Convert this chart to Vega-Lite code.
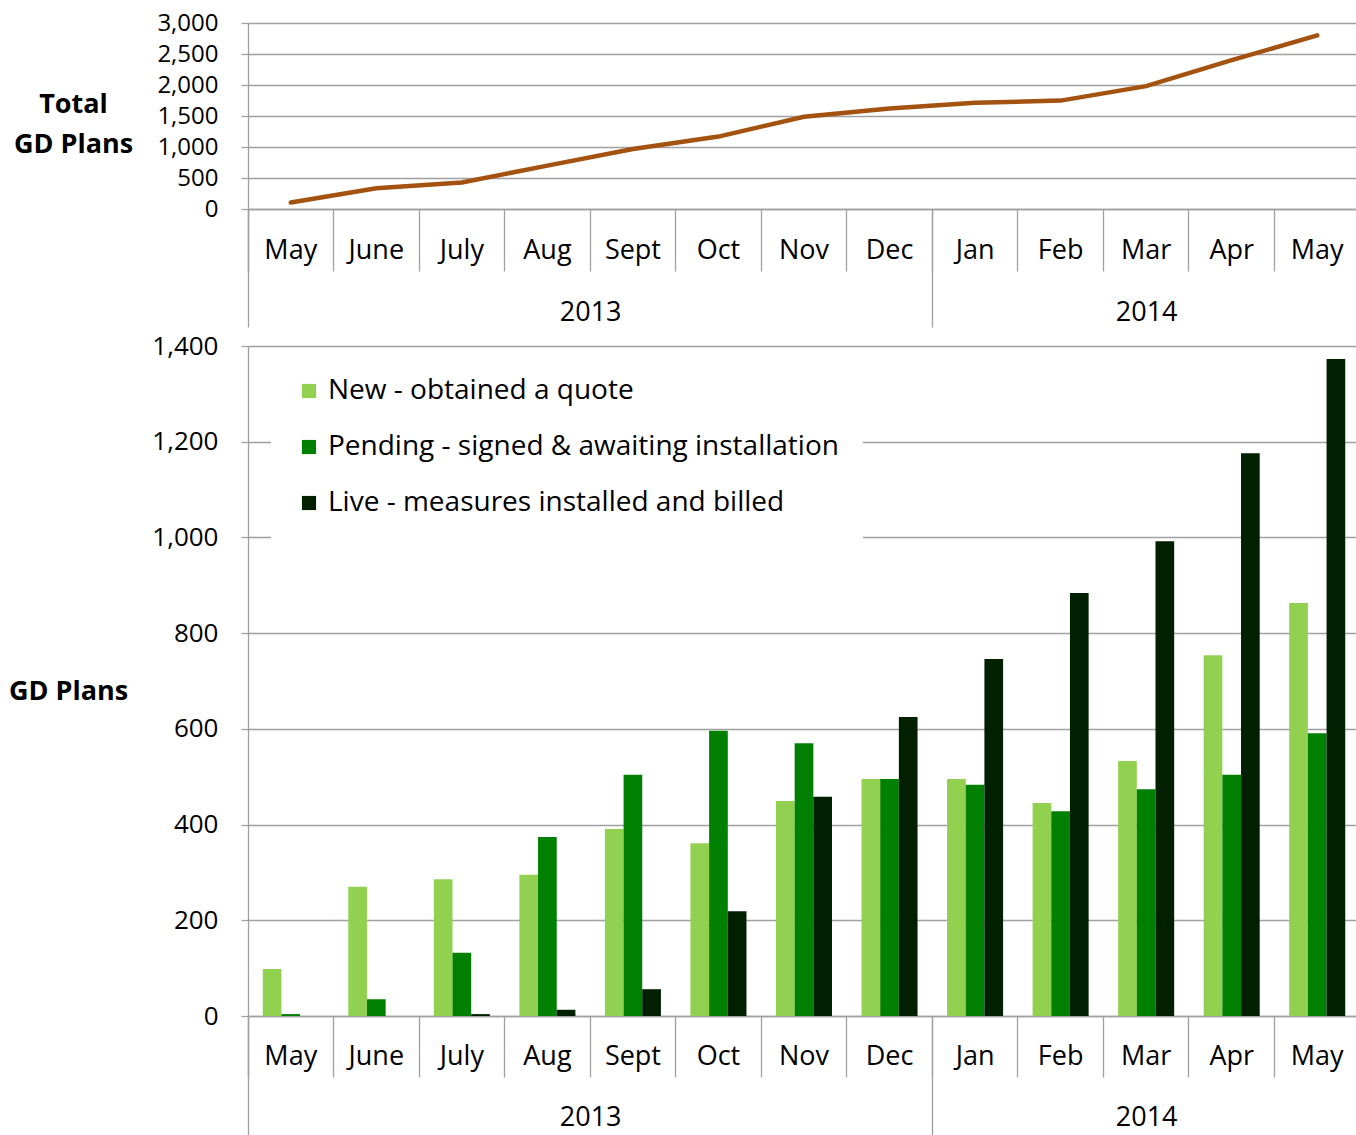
{
  "$schema": "https://vega.github.io/schema/vega-lite/v6.json",
  "padding": {"left": 8, "top": 11, "right": 0, "bottom": 0},
  "background": "white",
  "spacing": 5,
  "datasets": {
    "totals": [
      {"key": "May 2013", "total": 105},
      {"key": "June 2013", "total": 335},
      {"key": "July 2013", "total": 428},
      {"key": "Aug 2013", "total": 700},
      {"key": "Sept 2013", "total": 968},
      {"key": "Oct 2013", "total": 1168},
      {"key": "Nov 2013", "total": 1488},
      {"key": "Dec 2013", "total": 1622},
      {"key": "Jan 2014", "total": 1714},
      {"key": "Feb 2014", "total": 1748},
      {"key": "Mar 2014", "total": 1982},
      {"key": "Apr 2014", "total": 2400},
      {"key": "May 2014", "total": 2800}
    ],
    "years": [
      {"year": "2013", "start": 0, "end": 8},
      {"year": "2014", "start": 8, "end": 13}
    ],
    "bars": [
      {"key": "May 2013", "series": "New - obtained a quote", "value": 98},
      {"key": "May 2013", "series": "Pending - signed & awaiting installation", "value": 4},
      {"key": "May 2013", "series": "Live - measures installed and billed", "value": 0},
      {"key": "June 2013", "series": "New - obtained a quote", "value": 270},
      {"key": "June 2013", "series": "Pending - signed & awaiting installation", "value": 35},
      {"key": "June 2013", "series": "Live - measures installed and billed", "value": 0},
      {"key": "July 2013", "series": "New - obtained a quote", "value": 286},
      {"key": "July 2013", "series": "Pending - signed & awaiting installation", "value": 132},
      {"key": "July 2013", "series": "Live - measures installed and billed", "value": 4},
      {"key": "Aug 2013", "series": "New - obtained a quote", "value": 295},
      {"key": "Aug 2013", "series": "Pending - signed & awaiting installation", "value": 374},
      {"key": "Aug 2013", "series": "Live - measures installed and billed", "value": 13},
      {"key": "Sept 2013", "series": "New - obtained a quote", "value": 391},
      {"key": "Sept 2013", "series": "Pending - signed & awaiting installation", "value": 504},
      {"key": "Sept 2013", "series": "Live - measures installed and billed", "value": 56},
      {"key": "Oct 2013", "series": "New - obtained a quote", "value": 361},
      {"key": "Oct 2013", "series": "Pending - signed & awaiting installation", "value": 596},
      {"key": "Oct 2013", "series": "Live - measures installed and billed", "value": 219},
      {"key": "Nov 2013", "series": "New - obtained a quote", "value": 449},
      {"key": "Nov 2013", "series": "Pending - signed & awaiting installation", "value": 570},
      {"key": "Nov 2013", "series": "Live - measures installed and billed", "value": 458},
      {"key": "Dec 2013", "series": "New - obtained a quote", "value": 495},
      {"key": "Dec 2013", "series": "Pending - signed & awaiting installation", "value": 495},
      {"key": "Dec 2013", "series": "Live - measures installed and billed", "value": 625},
      {"key": "Jan 2014", "series": "New - obtained a quote", "value": 495},
      {"key": "Jan 2014", "series": "Pending - signed & awaiting installation", "value": 483},
      {"key": "Jan 2014", "series": "Live - measures installed and billed", "value": 746},
      {"key": "Feb 2014", "series": "New - obtained a quote", "value": 445},
      {"key": "Feb 2014", "series": "Pending - signed & awaiting installation", "value": 428},
      {"key": "Feb 2014", "series": "Live - measures installed and billed", "value": 884},
      {"key": "Mar 2014", "series": "New - obtained a quote", "value": 533},
      {"key": "Mar 2014", "series": "Pending - signed & awaiting installation", "value": 474},
      {"key": "Mar 2014", "series": "Live - measures installed and billed", "value": 992},
      {"key": "Apr 2014", "series": "New - obtained a quote", "value": 754},
      {"key": "Apr 2014", "series": "Pending - signed & awaiting installation", "value": 504},
      {"key": "Apr 2014", "series": "Live - measures installed and billed", "value": 1176},
      {"key": "May 2014", "series": "New - obtained a quote", "value": 863},
      {"key": "May 2014", "series": "Pending - signed & awaiting installation", "value": 591},
      {"key": "May 2014", "series": "Live - measures installed and billed", "value": 1373}
    ]
  },
  "vconcat": [
    {
      "width": 1112,
      "height": 186,
      "layer": [
        {
          "data": {"name": "totals"},
          "mark": {"type": "line", "color": "#A3520F", "strokeWidth": 4.5, "strokeCap": "round"},
          "encoding": {
            "x": {
              "field": "key", "type": "nominal", "sort": null,
              "scale": {"type": "band", "paddingInner": 0, "paddingOuter": 0},
              "axis": {
                "title": null, "labelExpr": "split(datum.label, ' ')[0]",
                "bandPosition": 0, "tickExtra": true, "tickSize": 62,
                "labelPadding": -21, "labelBaseline": "middle", "labelFontSize": 27,
                "labelAngle": 0, "grid": false, "labelFlush": false, "labelOverlap": false
              }
            },
            "y": {
              "field": "total", "type": "quantitative",
              "scale": {"domain": [0, 3000], "nice": false},
              "axis": {
                "values": [0, 500, 1000, 1500, 2000, 2500, 3000], "format": ",.0f",
                "tickSize": 7, "labelPadding": 23, "labelFontSize": 24,
                "title": ["Total", "GD Plans"], "titleAngle": 0, "titleFontWeight": "bold",
                "titleFontSize": 27, "titleX": -175, "titleY": 81, "titleAlign": "center",
                "titleBaseline": "middle", "titleLineHeight": 40
              }
            }
          }
        },
        {
          "data": {"name": "years"},
          "mark": {"type": "rect", "opacity": 0},
          "encoding": {
            "x": {
              "field": "start", "type": "quantitative",
              "scale": {"domain": [0, 13], "nice": false, "zero": false},
              "axis": {
                "orient": "bottom", "title": null, "values": [0, 4, 8, 10.5],
                "labelExpr": "datum.value == 4 ? '2013' : datum.value == 10.5 ? '2014' : ''",
                "tickSize": 118, "tickOpacity": {"condition": {"test": "datum.value == 4 || datum.value == 10.5", "value": 0}, "value": 1},
                "domain": false, "grid": false, "labelPadding": -15, "labelBaseline": "middle",
                "labelFontSize": 27, "labelFlush": false, "labelOverlap": false
              }
            },
            "x2": {"field": "end"}
          }
        }
      ],
      "resolve": {"scale": {"x": "independent"}, "axis": {"x": "independent"}}
    },
    {
      "width": 1112,
      "height": 670,
      "layer": [
        {
          "data": {"name": "bars"},
          "mark": {"type": "bar"},
          "encoding": {
            "x": {
              "field": "key", "type": "nominal", "sort": null,
              "scale": {"type": "band", "paddingInner": 0, "paddingOuter": 0},
              "axis": {
                "title": null, "labelExpr": "split(datum.label, ' ')[0]",
                "bandPosition": 0, "tickExtra": true, "tickSize": 61,
                "labelPadding": -21, "labelBaseline": "middle", "labelFontSize": 27,
                "labelAngle": 0, "grid": false, "labelFlush": false, "labelOverlap": false
              }
            },
            "xOffset": {
              "field": "series", "type": "nominal",
              "scale": {"domain": ["New - obtained a quote", "Pending - signed & awaiting installation", "Live - measures installed and billed"], "paddingInner": 0, "paddingOuter": 0.79}
            },
            "y": {
              "field": "value", "type": "quantitative",
              "scale": {"domain": [0, 1400], "nice": false},
              "axis": {
                "values": [0, 200, 400, 600, 800, 1000, 1200, 1400], "format": ",.0f",
                "tickSize": 7, "labelPadding": 23, "labelFontSize": 26,
                "title": "GD Plans", "titleAngle": 0, "titleFontWeight": "bold",
                "titleFontSize": 27, "titleX": -180, "titleY": 345, "titleAlign": "center",
                "titleBaseline": "middle"
              }
            },
            "color": {
              "field": "series", "type": "nominal",
              "scale": {
                "domain": ["New - obtained a quote", "Pending - signed & awaiting installation", "Live - measures installed and billed"],
                "range": ["#92D050", "#008000", "#002000"]
              },
              "legend": {
                "title": null, "orient": "none", "legendX": 23, "legendY": 330,
                "direction": "vertical", "fillColor": "white", "padding": 24,
                "symbolType": "square", "symbolSize": 200, "symbolStrokeWidth": 0,
                "labelFontSize": 28, "labelColor": "#000", "rowPadding": 28, "labelOffset": 5,
                "labelLimit": 800
              }
            }
          }
        },
        {
          "data": {"name": "years"},
          "mark": {"type": "rect", "opacity": 0},
          "encoding": {
            "x": {
              "field": "start", "type": "quantitative",
              "scale": {"domain": [0, 13], "nice": false, "zero": false},
              "axis": {
                "orient": "bottom", "title": null, "values": [0, 4, 8, 10.5],
                "labelExpr": "datum.value == 4 ? '2013' : datum.value == 10.5 ? '2014' : ''",
                "tickSize": 125, "tickOpacity": {"condition": {"test": "datum.value == 4 || datum.value == 10.5", "value": 0}, "value": 1},
                "domain": false, "grid": false, "labelPadding": -24, "labelBaseline": "middle",
                "labelFontSize": 27, "labelFlush": false, "labelOverlap": false
              }
            },
            "x2": {"field": "end"}
          }
        }
      ],
      "resolve": {"scale": {"x": "independent"}, "axis": {"x": "independent"}}
    }
  ],
  "config": {
    "font": "Open Sans",
    "view": {"stroke": null},
    "axis": {
      "labelFont": "Open Sans", "titleFont": "Open Sans", "labelColor": "#000", "titleColor": "#000",
      "gridColor": "#A0A0A0", "gridWidth": 1.3, "domainColor": "#A0A0A0", "domainWidth": 1.3,
      "tickColor": "#A0A0A0", "tickWidth": 1.3
    },
    "legend": {"labelFont": "Open Sans"}
  }
}
